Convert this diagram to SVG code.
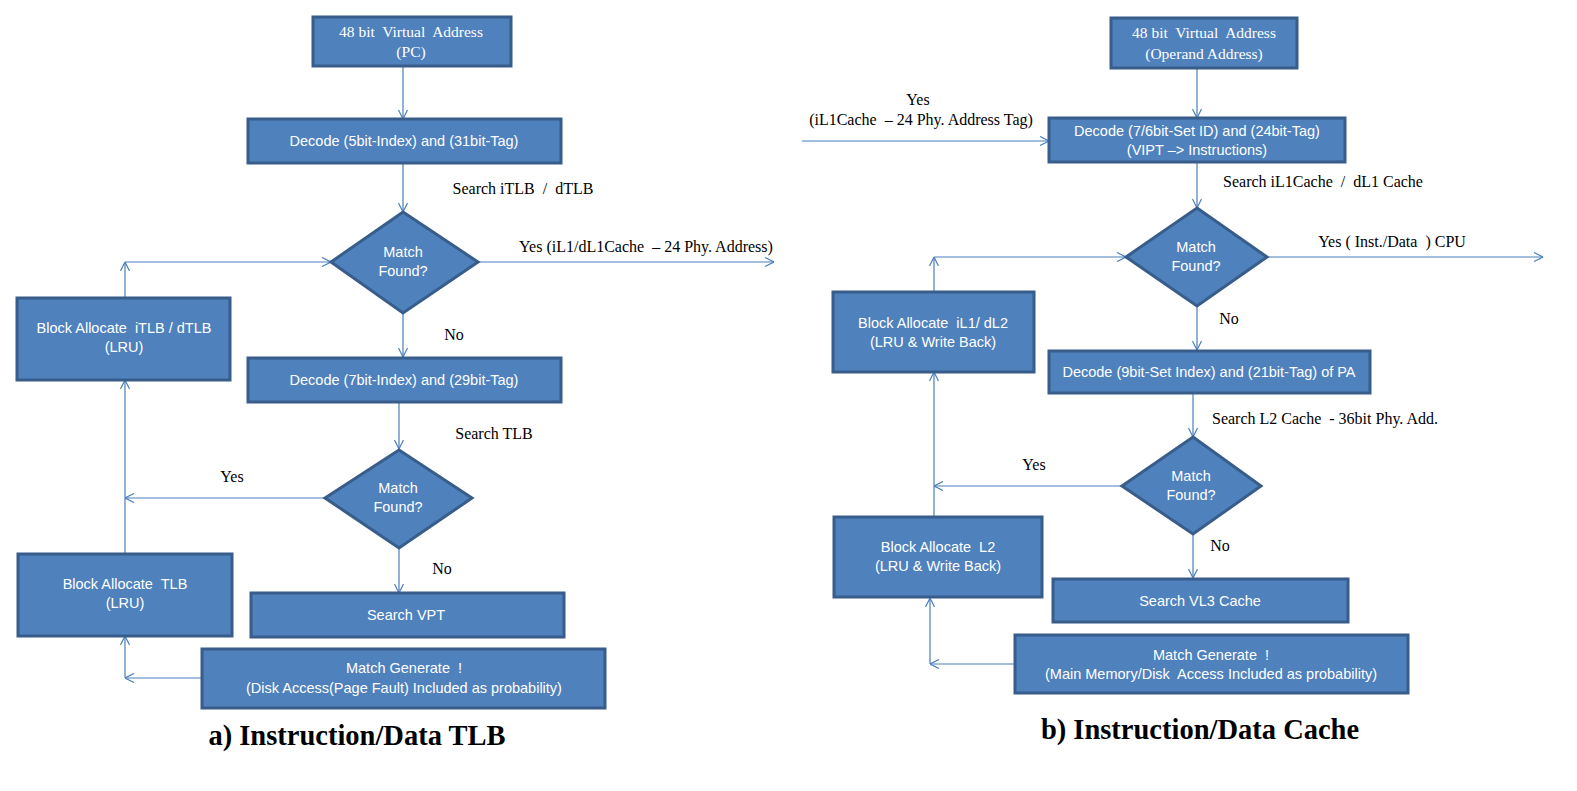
<svg xmlns="http://www.w3.org/2000/svg" width="1577" height="791" viewBox="0 0 1577 791">
<style>
.box{fill:#4F81BD;stroke:#385D8A;stroke-width:3}
text{white-space:pre}
.bt{fill:#fff;font-family:"Liberation Sans",Arial,sans-serif;font-size:14.5px;text-anchor:middle}
.bs{fill:#fff;font-family:"Liberation Serif","Times New Roman",serif;font-size:15.5px;text-anchor:middle}
.lb{fill:#000;font-family:"Liberation Serif","Times New Roman",serif;font-size:16px;text-anchor:middle}
.ti{fill:#000;font-family:"Liberation Serif","Times New Roman",serif;font-size:28.5px;font-weight:bold;text-anchor:middle}
.c{fill:none;stroke:#4A7EBB;stroke-width:1.2}
</style>
<defs>
<marker id="ah" viewBox="0 0 10 10" refX="10" refY="5" markerWidth="10" markerHeight="10" markerUnits="userSpaceOnUse" orient="auto">
<path d="M1,0.5 L10,5 L1,9.5" fill="none" stroke="#4A7EBB" stroke-width="1.2"/>
</marker>
</defs>
<rect width="1577" height="791" fill="#fff"/>

<g id="connectors">
<line class="c" x1="403" y1="66" x2="403" y2="119" marker-end="url(#ah)"/>
<line class="c" x1="403" y1="163" x2="403" y2="212" marker-end="url(#ah)"/>
<line class="c" x1="478" y1="262" x2="774" y2="262" marker-end="url(#ah)"/>
<line class="c" x1="125" y1="298" x2="125" y2="262" marker-end="url(#ah)"/>
<line class="c" x1="125" y1="262" x2="331" y2="262" marker-end="url(#ah)"/>
<line class="c" x1="403" y1="313" x2="403" y2="357" marker-end="url(#ah)"/>
<line class="c" x1="399" y1="402" x2="399" y2="449" marker-end="url(#ah)"/>
<line class="c" x1="325" y1="498" x2="125" y2="498" marker-end="url(#ah)"/>
<line class="c" x1="125" y1="554" x2="125" y2="380" marker-end="url(#ah)"/>
<line class="c" x1="399" y1="548" x2="399" y2="593" marker-end="url(#ah)"/>
<line class="c" x1="202" y1="678" x2="125" y2="678" marker-end="url(#ah)"/>
<line class="c" x1="125" y1="678" x2="125" y2="636" marker-end="url(#ah)"/>
<line class="c" x1="1197" y1="68" x2="1197" y2="118" marker-end="url(#ah)"/>
<line class="c" x1="802" y1="141" x2="1049" y2="141" marker-end="url(#ah)"/>
<line class="c" x1="1197" y1="162" x2="1197" y2="208" marker-end="url(#ah)"/>
<line class="c" x1="1267" y1="257" x2="1543" y2="257" marker-end="url(#ah)"/>
<line class="c" x1="934" y1="292" x2="934" y2="257" marker-end="url(#ah)"/>
<line class="c" x1="934" y1="257" x2="1126" y2="257" marker-end="url(#ah)"/>
<line class="c" x1="1197" y1="306" x2="1197" y2="350" marker-end="url(#ah)"/>
<line class="c" x1="1193" y1="393" x2="1193" y2="437" marker-end="url(#ah)"/>
<line class="c" x1="1122" y1="486" x2="934" y2="486" marker-end="url(#ah)"/>
<line class="c" x1="934" y1="517" x2="934" y2="372" marker-end="url(#ah)"/>
<line class="c" x1="1193" y1="534" x2="1193" y2="578" marker-end="url(#ah)"/>
<line class="c" x1="1015" y1="664" x2="930" y2="664" marker-end="url(#ah)"/>
<line class="c" x1="930" y1="664" x2="930" y2="598" marker-end="url(#ah)"/>
</g>

<g id="labels">
<text class="lb" x="523" y="194">Search iTLB  /  dTLB</text>
<text class="lb" x="646" y="252">Yes (iL1/dL1Cache  – 24 Phy. Address)</text>
<text class="lb" x="454" y="340">No</text>
<text class="lb" x="494" y="439">Search TLB</text>
<text class="lb" x="232" y="482">Yes</text>
<text class="lb" x="442" y="574">No</text>
<text class="lb" x="918" y="105">Yes</text>
<text class="lb" x="921" y="125">(iL1Cache  – 24 Phy. Address Tag)</text>
<text class="lb" x="1323" y="187">Search iL1Cache  /  dL1 Cache</text>
<text class="lb" x="1392" y="247">Yes ( Inst./Data  ) CPU</text>
<text class="lb" x="1229" y="324">No</text>
<text class="lb" x="1325" y="424">Search L2 Cache  - 36bit Phy. Add.</text>
<text class="lb" x="1034" y="470">Yes</text>
<text class="lb" x="1220" y="551">No</text>
<text class="ti" x="357" y="745">a) Instruction/Data TLB</text>
<text class="ti" x="1200" y="739">b) Instruction/Data Cache</text>
</g>

<g id="n_va_pc"><rect class="box" x="313" y="17" width="198" height="49"/>
<text class="bs" x="411" y="37">48 bit  Virtual  Address</text><text class="bs" x="411" y="57">(PC)</text></g>
<g id="n_dec5"><rect class="box" x="248" y="119" width="313" height="44"/>
<text class="bt" x="404" y="146">Decode (5bit-Index) and (31bit-Tag)</text></g>
<g id="n_match1"><polygon class="box" points="403,212 478,262 403,313 331,262"/>
<text class="bt" x="403" y="257">Match</text><text class="bt" x="403" y="276">Found?</text></g>
<g id="n_blk_itlb"><rect class="box" x="17" y="298" width="213" height="82"/>
<text class="bt" x="124" y="333">Block Allocate  iTLB / dTLB</text><text class="bt" x="124" y="352">(LRU)</text></g>
<g id="n_dec7"><rect class="box" x="248" y="358" width="313" height="44"/>
<text class="bt" x="404" y="385">Decode (7bit-Index) and (29bit-Tag)</text></g>
<g id="n_match2"><polygon class="box" points="399,450 472,498 399,548 325,498"/>
<text class="bt" x="398" y="493">Match</text><text class="bt" x="398" y="512">Found?</text></g>
<g id="n_blk_tlb"><rect class="box" x="18" y="554" width="214" height="82"/>
<text class="bt" x="125" y="589">Block Allocate  TLB</text><text class="bt" x="125" y="608">(LRU)</text></g>
<g id="n_vpt"><rect class="box" x="251" y="593" width="313" height="44"/>
<text class="bt" x="406" y="620">Search VPT</text></g>
<g id="n_gen1"><rect class="box" x="202" y="649" width="403" height="59"/>
<text class="bt" x="404" y="673">Match Generate  !</text><text class="bt" x="404" y="693">(Disk Access(Page Fault) Included as probability)</text></g>

<g id="n_va_op"><rect class="box" x="1111" y="18" width="186" height="50"/>
<text class="bs" x="1204" y="38">48 bit  Virtual  Address</text><text class="bs" x="1204" y="59">(Operand Address)</text></g>
<g id="n_dec76"><rect class="box" x="1049" y="118" width="296" height="44"/>
<text class="bt" x="1197" y="136">Decode (7/6bit-Set ID) and (24bit-Tag)</text><text class="bt" x="1197" y="155">(VIPT –&gt; Instructions)</text></g>
<g id="n_match3"><polygon class="box" points="1197,208 1267,257 1197,306 1126,257"/>
<text class="bt" x="1196" y="252">Match</text><text class="bt" x="1196" y="271">Found?</text></g>
<g id="n_blk_il1"><rect class="box" x="833" y="292" width="201" height="80"/>
<text class="bt" x="933" y="328">Block Allocate  iL1/ dL2</text><text class="bt" x="933" y="347">(LRU &amp; Write Back)</text></g>
<g id="n_dec9"><rect class="box" x="1049" y="351" width="321" height="42"/>
<text class="bt" x="1209" y="377">Decode (9bit-Set Index) and (21bit-Tag) of PA</text></g>
<g id="n_match4"><polygon class="box" points="1193,437 1261,486 1193,534 1122,486"/>
<text class="bt" x="1191" y="481">Match</text><text class="bt" x="1191" y="500">Found?</text></g>
<g id="n_blk_l2"><rect class="box" x="834" y="517" width="208" height="80"/>
<text class="bt" x="938" y="552">Block Allocate  L2</text><text class="bt" x="938" y="571">(LRU &amp; Write Back)</text></g>
<g id="n_vl3"><rect class="box" x="1053" y="579" width="295" height="43"/>
<text class="bt" x="1200" y="606">Search VL3 Cache</text></g>
<g id="n_gen2"><rect class="box" x="1015" y="635" width="393" height="58"/>
<text class="bt" x="1211" y="660">Match Generate  !</text><text class="bt" x="1211" y="679">(Main Memory/Disk  Access Included as probability)</text></g>
</svg>
